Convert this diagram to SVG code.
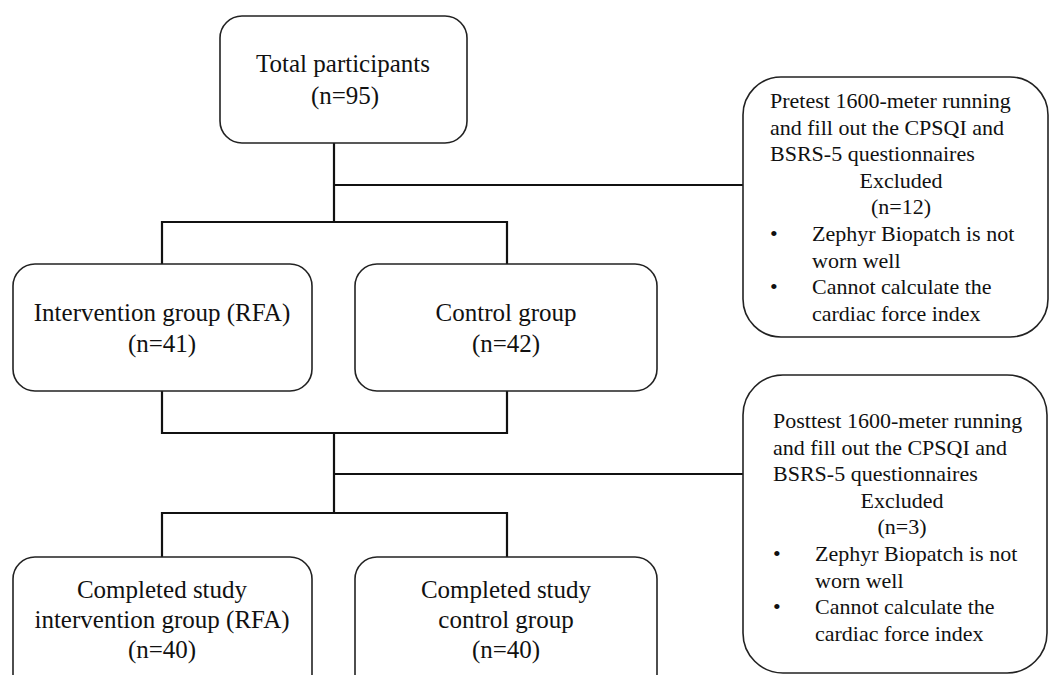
<svg xmlns="http://www.w3.org/2000/svg" width="1049" height="675" viewBox="0 0 1049 675">
<style>
.box{fill:#fff;stroke:#222;stroke-width:1.6}
.c{fill:none;stroke:#111;stroke-width:2.2}
.t{font-family:"Liberation Serif","Times New Roman",serif;font-size:25px;fill:#111;text-anchor:middle}
.s{font-family:"Liberation Serif","Times New Roman",serif;font-size:22px;fill:#111}
.m{text-anchor:middle}
</style>
<rect width="1049" height="675" fill="#fff"/>
<g id="connectors">
<path class="c" d="M334 143V222M334 185H744M162 264V222H507V264"/>
<path class="c" d="M162 391V433H507V391M334 433V513M334 474H744M162 557V513H507V557"/>
</g>
<g id="total">
<rect class="box" x="220" y="16" width="247" height="127" rx="22"/>
<text class="t" x="343" y="72">Total participants</text>
<text class="t" x="345" y="104">(n=95)</text>
</g>
<g id="intervention">
<rect class="box" x="13" y="264" width="299" height="127" rx="22"/>
<text class="t" x="162" y="321">Intervention group (RFA)</text>
<text class="t" x="162" y="352">(n=41)</text>
</g>
<g id="control">
<rect class="box" x="355" y="264" width="302" height="127" rx="22"/>
<text class="t" x="506" y="321">Control group</text>
<text class="t" x="506" y="352">(n=42)</text>
</g>
<g id="completed-intervention">
<rect class="box" x="13" y="557" width="299" height="139" rx="22"/>
<text class="t" x="162" y="598">Completed study</text>
<text class="t" x="162" y="628">intervention group (RFA)</text>
<text class="t" x="162" y="658">(n=40)</text>
</g>
<g id="completed-control">
<rect class="box" x="355" y="557" width="302" height="139" rx="22"/>
<text class="t" x="506" y="598">Completed study</text>
<text class="t" x="506" y="628">control group</text>
<text class="t" x="506" y="658">(n=40)</text>
</g>
<g id="pretest-excluded">
<rect class="box" x="743" y="77" width="305" height="260" rx="38"/>
<text class="s" x="770" y="108">Pretest 1600-meter running</text>
<text class="s" x="770" y="135">and fill out the CPSQI and</text>
<text class="s" x="770" y="161">BSRS-5 questionnaires</text>
<text class="s m" x="901" y="188">Excluded</text>
<text class="s m" x="901" y="214">(n=12)</text>
<text class="s" x="770" y="241">•</text>
<text class="s" x="812" y="241">Zephyr Biopatch is not</text>
<text class="s" x="812" y="268">worn well</text>
<text class="s" x="770" y="294">•</text>
<text class="s" x="812" y="294">Cannot calculate the</text>
<text class="s" x="812" y="321">cardiac force index</text>
</g>
<g id="posttest-excluded">
<rect class="box" x="743" y="375" width="304" height="298" rx="40"/>
<text class="s" x="773" y="428">Posttest 1600-meter running</text>
<text class="s" x="773" y="455">and fill out the CPSQI and</text>
<text class="s" x="773" y="481">BSRS-5 questionnaires</text>
<text class="s m" x="902" y="508">Excluded</text>
<text class="s m" x="902" y="534">(n=3)</text>
<text class="s" x="773" y="561">•</text>
<text class="s" x="815" y="561">Zephyr Biopatch is not</text>
<text class="s" x="815" y="588">worn well</text>
<text class="s" x="773" y="614">•</text>
<text class="s" x="815" y="614">Cannot calculate the</text>
<text class="s" x="815" y="641">cardiac force index</text>
</g>
</svg>
